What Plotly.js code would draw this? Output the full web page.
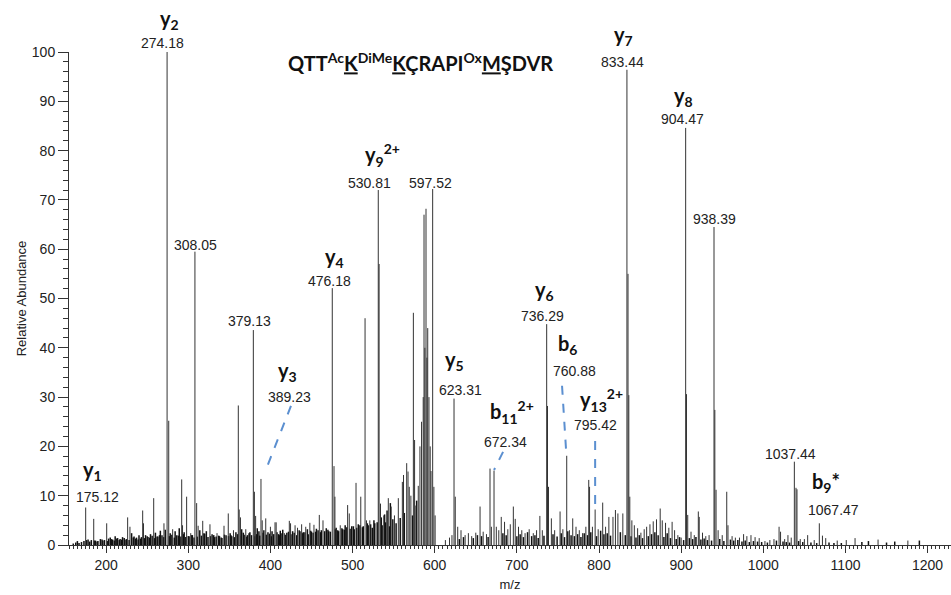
<!DOCTYPE html>
<html>
<head>
<meta charset="utf-8">
<script src="https://cdn.plot.ly/plotly-3.0.1.min.js"></script>
<style>html,body{margin:0;padding:0;background:#fff}#chart{width:951px;height:595px}</style>
</head>
<body>
<div id="chart"></div>
<script>
// Main fragment peaks (m/z, relative abundance)
const peakMz = [175.1,184.9,200.7,226.2,229,244.5,245.5,257.9,270.4,274.2,276.2,281,292,293,298,303,308.1,310.2,312,317.6,326.4,335,343.5,348.7,355,360.9,362,363.5,370,379.2,380.5,382,388.5,390,394.3,400,405.6,407,417,423,424.5,430,433,438,443,448,453,459.5,464,475.3,477.4,478.5,485,494,496,504.2,510,515.2,517,521,531.3,532.3,534,538,543.5,547,551,555.7,560.6,562,565.9,567.5,569,571,574,575.5,577,580,582,584,586,587,588,589.4,590.5,591.5,593,594.5,595.5,597.5,599,600.5,
613,618,621,623.5,625,628,632,637,641,645,650,655.2,659,663,667.3,669,672.2,675,678,681,685,689,692,695.7,698,702,706,710,715,720,724,728,731,736.3,737.3,738.5,742,746,752.6,756,760.7,764,768,772,776,780,784,787.5,788.5,792,795.3,799,804.5,808,812,817,820,823,829,834,835.3,836.3,837.5,840,843,847,851,855,858,862,866,870,874.5,877,881,885,889,892,896,900,905.5,906.5,908,912,916,920.9,922,926,930,934,940,941,942.5,945,950,955.5,957,962,966,971,976,980,985,990,995,1002,1008,1013,1019.2,1021,1026,1030,1034,1037.8,1039.8,1041,1045,1050,1054,1062,1068.2,1072,1076,1090,1101,1111.7,1139.7,1176];
const peakInt = [7.6,5.3,4.4,5.6,3.7,7.0,4.4,9.5,4.4,100,25.2,3.2,13.3,4.0,9.8,2.4,59.5,8.5,3.9,4.9,4.2,2.4,3.9,6.4,3.0,28.3,7.2,5.6,3.2,43.6,10.8,5.9,13.4,5.0,5.4,3.7,4.6,4.6,2.4,4.9,4.4,4.0,3.5,4.2,3.7,4.5,4.1,6.1,5.0,52.1,16,9.8,4,8.1,6.4,12.6,9.8,46,5,5,72,57,8.4,6,9.5,7.8,6,9.5,12.8,14.2,16.6,14.9,11.8,10,47.1,21.3,8,12,20,25,30,67,40,68.2,38,44,30,20,15,72.2,11.8,6,
1,1.5,2,29.7,9.8,3.7,3.0,2.0,2.4,1.8,2.5,7.8,2.7,2.2,15.5,3.7,15.1,3.7,3.0,5.7,4.7,3.2,4.2,7.8,5.3,3.7,3.0,2.4,3.2,2.4,3.0,5.9,3.0,44.8,28.2,11.8,5.4,3.0,6.8,3.2,18.1,3.0,5.4,3.7,3.0,2.4,3.7,13.2,11.8,3.7,7.2,3.2,8.6,3.7,5.7,5.7,7.1,6.4,6.4,96.4,55,30.4,9.8,5,4,3.4,2.5,3.2,3.7,4.2,4.8,5.2,7.4,5.0,4.5,3.5,4.7,3.0,2.0,1.5,84.6,30.6,6.1,2.7,2.0,6.8,5.7,2.5,1.8,2.0,64.5,27.4,11.2,3.0,2.0,10.8,4.0,1.8,1.5,1.5,2.2,1.8,2.0,1.6,1.4,0.8,1.0,1.2,3.7,2.7,1.2,2.0,1.5,16.9,11.6,11.3,1.2,1.2,2.0,1.0,4.4,1.9,1.4,0.9,1.0,1.4,1.1,0.9];
// Low-level baseline peaks
const noiseMz = [160,163,167,170,173,178,180,182,187,190,193,196,198,203,205,208,211,214,217,220,223,231,234,237,240,242,248,251,254,260,263,266,268,272,278,284,286,289,295,300,305,314,319,322,329,332,338,341,346,351,353,358,365,367,372,375,384,386,392,397,402,410,412,415,420,427,435,440,445,450,456,462,468,471,480,483,488,491,499,502,507,512,519,524,527,536,540,545,549,553,558,563,573,578,
630,635,647,652,657,665,683,687,700,704,708,713,718,722,726,733,744,749,754,758,762,766,770,774,778,782,786,790,797,802,806,810,814,826,832,839,845,849,853,860,864,868,872,879,883,887,894,898,903,910,914,918,924,928,932,937,947,952,960,964,969,974,978,983,988,993,998,1005,1016,1024,1028,1032,1043,1048,1058,1065,1080,1086,1095,1120,1128,1150,1160,1190,
165,176,185.5,189,195,201.5,206.5,210,213,216,219,222,225,228,233,236,239,243,247,250,253,256,259,262,265,270,277,280,283,288,291,294,297,301,304,307,311,316,320,324,327,331,334,337,340,344,349,352,356,360,364,368,371,374,377,381,383,387,391,395,399,401,404,408,411,414,418,422,425,429,432,436,439,442,446,449,452,455,458,461,466,470,473,479,482,487,490,493,497,501,505,509,513,518,522,526,530,535,539,542,546,550,554,557,561,564,568,572,576,579,583,585,592,596];
const noiseInt = [0.3,0.5,0.4,0.6,0.8,1.1,0.7,1.0,0.9,0.8,1.2,0.9,1.0,1.3,1.5,1.1,1.8,1.4,1.2,1.6,1.1,2.4,1.7,1.5,2.0,1.3,2.0,1.6,2.2,2.5,1.7,2.9,2.0,3.1,2.4,2.8,2.0,3.4,2.6,1.8,2.0,3.0,2.4,2.8,2.2,1.6,1.8,1.4,2.0,2.4,1.8,2.6,3.2,2.5,2.0,2.6,3.4,2.8,3.0,2.6,2.8,2.2,2.9,3.1,2.5,2.8,3.0,2.6,3.2,2.7,3.3,3.0,3.4,2.8,3.5,2.8,3.2,4.0,3.8,3.2,4.2,3.6,4.0,3.5,4.4,4.0,4.6,3.8,5.2,4.4,5.5,6.5,6.0,9.0,
1.2,1.6,1.4,2.0,1.8,1.6,2.4,2.0,1.8,2.2,1.6,2.6,1.8,2.0,1.4,1.9,2.2,1.7,2.4,1.6,2.8,2.0,1.8,2.2,1.6,2.4,2.0,2.6,1.8,2.9,2.2,2.4,1.9,2.6,2.0,1.8,1.5,2.0,1.4,1.8,2.2,2.6,2.0,1.6,2.4,1.4,1.2,1.6,1.0,1.4,1.2,1.6,1.1,1.3,1.0,0.9,1.2,0.8,1.1,0.9,1.0,0.7,0.9,0.6,0.8,0.7,0.6,0.5,0.9,0.7,0.6,0.5,0.8,0.6,0.5,0.4,0.5,0.4,
0.4,0.6,0.8,0.5,0.7,0.9,0.8,1.0,0.9,0.7,1.1,0.8,1.2,0.9,1.3,1.0,1.1,1.4,1.2,1.0,1.5,1.3,1.1,1.6,1.4,1.8,1.5,1.9,1.4,1.7,2.0,1.6,1.8,2.1,1.5,1.9,1.7,2.2,1.6,1.8,2.0,1.5,1.7,1.9,2.3,1.6,1.8,2.0,1.7,1.9,1.5,2.1,1.8,2.0,1.6,2.2,1.9,2.1,1.7,2.4,2.0,1.8,2.2,1.9,2.5,2.1,2.3,1.8,2.2,2.6,2.0,2.4,2.1,2.7,2.2,2.5,2.0,2.8,2.4,2.6,2.2,2.9,2.5,2.7,3.0,2.6,2.8,3.1,2.7,3.2,3.0,3.4,3.1,3.6,3.3,3.8,3.5,4.0,3.8,4.4,4.2,5.0,4.6,5.6,6.2,7.0,8.5];

function sticks(xs, ys) {
  const x = [], y = [];
  for (let i = 0; i < xs.length; i++) { x.push(xs[i], xs[i], null); y.push(0, ys[i], null); }
  return {x, y};
}
const n = sticks(noiseMz, noiseInt);
const p = sticks(peakMz, peakInt);

const traces = [
  {type:'scatter', mode:'lines', x:n.x, y:n.y, line:{color:'#111', width:1.5}, hoverinfo:'skip', showlegend:false},
  {type:'scatter', mode:'lines', x:p.x, y:p.y, line:{color:'#333', width:1}, hoverinfo:'skip', showlegend:false}
];

const numFont = {family:'Liberation Sans, Arial, sans-serif', size:14, color:'#222'};
const ionFont = {family:'Lato, sans-serif', size:20, color:'#111'};
// yref paper: 0..1 spans 0..100 relative abundance
function num(t, x, y) { return {text:t, x:x, y:y/100, xref:'x', yref:'paper', showarrow:false, font:numFont, xanchor:'center', yanchor:'middle'}; }
function ion(t, x, y, anchor) { return {text:'<b>'+t+'</b>', x:x, y:y/100, xref:'x', yref:'paper', showarrow:false, font:ionFont, xanchor:anchor||'center', yanchor:'middle'}; }

const annotations = [
  ion('y<sub>2</sub>', 277.7, 106.5), num('274.18', 268.1, 101.8),
  ion('y<sub>1</sub>', 184, 15.2), num('175.12', 188.9, 9.7),
  num('308.05', 308.2, 60.9),
  num('379.13', 375.1, 45.4),
  ion('y<sub>3</sub>', 421.3, 35.1), num('389.23', 423.8, 30.0),
  ion('y<sub>4</sub>', 478.6, 58.4), num('476.18', 472.5, 53.5),
  ion('y<sub>9</sub><sup>2+</sup>', 512.7, 79.1, 'left'), num('530.81', 520.0, 73.4),
  num('597.52', 594.3, 73.4),
  ion('y<sub>7</sub>', 829.4, 103.4), num('833.44', 828.2, 98.0),
  ion('y<sub>8</sub>', 902.4, 90.9), num('904.47', 901.2, 86.4),
  num('938.39', 940.1, 66.1),
  ion('y<sub>6</sub>', 734.2, 51.7), num('736.29', 731.8, 46.4),
  ion('y<sub>5</sub>', 624.6, 37.5), num('623.31', 631.9, 31.4),
  ion('b<sub>11</sub><sup>2+</sup>', 664.9, 27.0, 'left'), num('672.34', 686.7, 20.9),
  ion('b<sub>6</sub>', 762.1, 40.6), num('760.88', 770.6, 35.3),
  ion('y<sub>13</sub><sup>2+</sup>', 774.4, 29.4, 'left'), num('795.42', 795.5, 24.3),
  num('1037.44', 1033.5, 18.5),
  ion('b<sub>9</sub>*', 1056.7, 12.6, 'left'), num('1067.47', 1085.0, 7.1),
  {text:'<b>QTT<sup>Ac</sup><u>K</u><sup>DiMe</sup><u>K</u>ÇRAPI<sup>Ox</sup><u>M</u>ŞDVR</b>', xref:'paper', yref:'paper', x:0.398, y:0.98,
   showarrow:false, xanchor:'center', yanchor:'middle', font:{family:'Lato, sans-serif', size:20, color:'#111'}}
];

const dash = {color:'#5b8fd0', width:2, dash:'dash'};
const shapes = [
  {type:'line', xref:'x', yref:'y', x0:425.0, y0:28.2, x1:393.4, y1:14.8, line:dash},
  {type:'line', xref:'x', yref:'y', x0:683.2, y0:18.9, x1:672.2, y1:15.2, line:dash},
  {type:'line', xref:'x', yref:'y', x0:755.0, y0:32.3, x1:759.9, y1:19.3, line:dash},
  {type:'line', xref:'x', yref:'y', x0:795.3, y0:21.1, x1:795.3, y1:8.1, line:dash}
];

const axisFont = {family:'Liberation Sans, Arial, sans-serif', size:14, color:'#222'};
const layout = {
  width:951, height:595,
  margin:{l:69, r:0, t:52, b:50, pad:0},
  paper_bgcolor:'#fff', plot_bgcolor:'#fff',
  showlegend:false,
  xaxis:{range:[154.8, 1228.5], showgrid:false, zeroline:false, showline:true, linecolor:'#333', linewidth:1,
    ticks:'outside', ticklen:7, tickcolor:'#333', tickwidth:1, dtick:100, tick0:0, tickfont:axisFont,
    minor:{dtick:5, tick0:0, ticks:'outside', ticklen:3, tickcolor:'#333', tickwidth:1, showgrid:false},
    title:{text:'m/z', font:{family:'Liberation Sans, Arial, sans-serif', size:13, color:'#222'}, standoff:8}},
  yaxis:{range:[0, 100], showgrid:false, zeroline:false, showline:true, linecolor:'#333', linewidth:1,
    ticks:'outside', ticklen:10, tickcolor:'#333', tickwidth:1, dtick:10, tick0:0, tickfont:axisFont,
    minor:{dtick:2, tick0:0, ticks:'outside', ticklen:5, tickcolor:'#333', tickwidth:1, showgrid:false},
    title:{text:'Relative Abundance', font:{family:'Liberation Sans, Arial, sans-serif', size:13, color:'#222'}, standoff:2}},
  annotations:annotations,
  shapes:shapes
};

Plotly.newPlot('chart', traces, layout, {displayModeBar:false, staticPlot:true});
</script>
</body>
</html>
